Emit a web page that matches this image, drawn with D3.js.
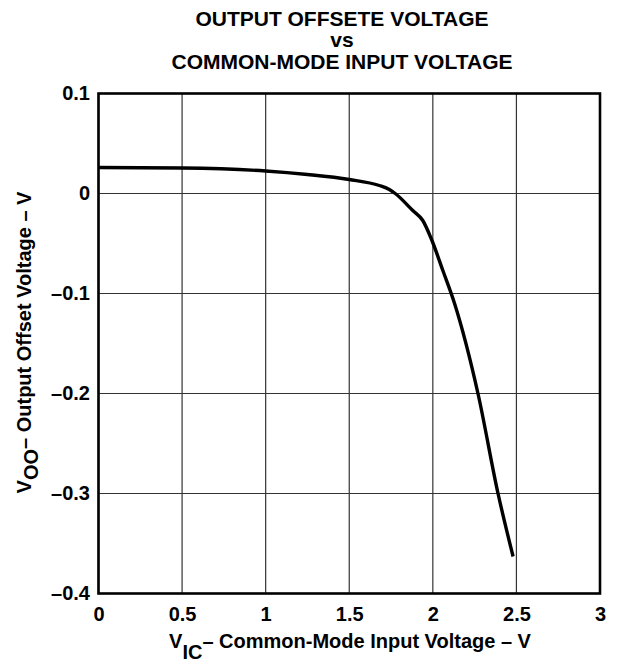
<!DOCTYPE html>
<html>
<head>
<meta charset="utf-8">
<script src="https://cdn.jsdelivr.net/npm/d3@7"></script>
<style>
  body { margin: 0; background: #fff; }
  svg { display: block; font-family: "Liberation Sans", Arial, Helvetica, sans-serif; }
</style>
</head>
<body>
<svg id="chart" width="623" height="664"></svg>
<script>
// ---- data ----
const vic = [0, 0.5, 1.0, 1.25, 1.5, 1.68, 1.74, 1.775, 1.88, 1.94, 1.99, 2.06, 2.13, 2.27, 2.39, 2.48];
const voo = [0.026, 0.0255, 0.0225, 0.019, 0.014, 0.008, 0.004, 0.0, -0.017, -0.027, -0.045, -0.077, -0.11, -0.2, -0.3, -0.363];
const xTicks = [0, 0.5, 1, 1.5, 2, 2.5, 3];
const yTicks = [0.1, 0, -0.1, -0.2, -0.3, -0.4];
const titleLines = ["OUTPUT OFFSETE VOLTAGE", "vs", "COMMON-MODE INPUT VOLTAGE"];

const svg = d3.select("#chart");
const m = { left: 98.5, right: 600, top: 93.5, bottom: 593.5 };
const x = d3.scaleLinear().domain([0, 3]).range([m.left, m.right]);
const y = d3.scaleLinear().domain([-0.4, 0.1]).range([m.bottom, m.top]);

// grid
const g = svg.append("g");
g.selectAll(".vg").data(xTicks).join("line")
  .attr("x1", d => x(d)).attr("x2", d => x(d))
  .attr("y1", m.top).attr("y2", m.bottom)
  .attr("stroke", "#333").attr("stroke-width", 1.2);
g.selectAll(".hg").data(yTicks).join("line")
  .attr("x1", m.left).attr("x2", m.right)
  .attr("y1", d => y(d)).attr("y2", d => y(d))
  .attr("stroke", "#333").attr("stroke-width", 1.2);

// frame
svg.append("rect").attr("x", m.left).attr("y", m.top)
  .attr("width", m.right - m.left).attr("height", m.bottom - m.top)
  .attr("fill", "none").attr("stroke", "#000").attr("stroke-width", 2.6);

// curve
const pts = vic.map((v, i) => [v, voo[i]]);
svg.append("path").datum(pts)
  .attr("d", d3.line().x(d => x(d[0])).y(d => y(d[1])).curve(d3.curveMonotoneX))
  .attr("fill", "none").attr("stroke", "#000").attr("stroke-width", 3.4)
  .attr("stroke-linejoin", "round");

// tick labels
const fmt = d => (d < 0 ? "\u2013" + Math.abs(d) : String(d));
svg.append("g").attr("transform", `translate(0,${m.bottom})`)
  .call(d3.axisBottom(x).tickValues(xTicks).tickSize(0).tickPadding(13.5).tickFormat(fmt))
  .call(s => s.select(".domain").remove())
  .selectAll("text").attr("font-size", 20).attr("font-weight", "bold")
  .attr("font-family", "Liberation Sans, Arial, sans-serif").attr("fill", "#000");
svg.append("g").attr("transform", `translate(${m.left},0)`)
  .call(d3.axisLeft(y).tickValues(yTicks).tickSize(0).tickPadding(8.5).tickFormat(fmt))
  .call(s => s.select(".domain").remove())
  .selectAll("text").attr("font-size", 20).attr("font-weight", "bold")
  .attr("font-family", "Liberation Sans, Arial, sans-serif").attr("fill", "#000");

// title
svg.append("g").selectAll("text").data(titleLines).join("text")
  .attr("x", 342).attr("y", (d, i) => 25.5 + i * 21.5)
  .attr("text-anchor", "middle").attr("font-size", 21).attr("font-weight", "bold")
  .text(d => d);

// x axis title
const xt = svg.append("text").attr("x", 350).attr("y", 648)
  .attr("text-anchor", "middle").attr("font-size", 20).attr("font-weight", "bold");
xt.append("tspan").text("V");
xt.append("tspan").attr("dy", 11).text("IC");
xt.append("tspan").attr("dy", -11).text("\u2013 Common-Mode Input Voltage \u2013 V");

// y axis title
const yt = svg.append("text").attr("transform", `translate(31,${(m.top + m.bottom) / 2 - 1}) rotate(-90)`)
  .attr("text-anchor", "middle").attr("font-size", 20).attr("font-weight", "bold");
yt.append("tspan").text("V");
yt.append("tspan").attr("dy", 7).text("OO");
yt.append("tspan").attr("dy", -7).text("\u2013 Output Offset Voltage \u2013 V");
</script>
</body>
</html>
